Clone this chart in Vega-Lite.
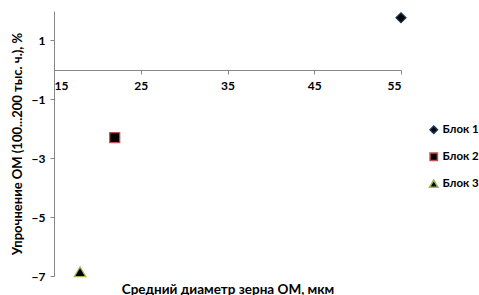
{
  "$schema": "https://vega.github.io/schema/vega-lite/v6.json",
  "width": 347,
  "height": 265,
  "autosize": {"type": "none"},
  "padding": {"left": 54, "top": 11, "right": 78, "bottom": 19},
  "background": "white",
  "config": {"view": {"stroke": null}, "font": "Lato"},
  "data": {"values": [
    {"x": 55, "y": 1.77, "series": "Блок 1"},
    {"x": 22, "y": -2.3, "series": "Блок 2"},
    {"x": 18, "y": -6.86, "series": "Блок 3"}
  ]},
  "mark": {"type": "point", "filled": false, "opacity": 1, "strokeWidth": 1.2, "size": 100},
  "encoding": {
    "x": {
      "field": "x", "type": "quantitative",
      "scale": {"domain": [15, 55], "nice": false, "zero": false},
      "axis": {
        "values": [15, 25, 35, 45, 55],
        "offset": -206,
        "grid": false,
        "domainColor": "#868686",
        "tickColor": "#868686",
        "tickSize": 4,
        "labelPadding": 6,
        "labelFontSize": 12,
        "labelFontWeight": "bold",
        "labelColor": "#000",
        "title": "Средний диаметр зерна ОМ, мкм",
        "titleFontSize": 13.5,
        "titleFontWeight": "bold",
        "titleColor": "#000",
        "titleY": 219,
        "titleBaseline": "middle"
      }
    },
    "y": {
      "field": "y", "type": "quantitative",
      "scale": {"domain": [-7, 2], "nice": false, "zero": false},
      "axis": {
        "values": [-7, -5, -3, -1, 1],
        "grid": false,
        "domainColor": "#868686",
        "tickColor": "#868686",
        "tickSize": 4,
        "labelPadding": 5,
        "labelFontSize": 12,
        "labelFontWeight": "bold",
        "labelColor": "#000",
        "title": "Упрочнение ОМ (100...200 тыс. ч.), %",
        "titleFontSize": 13,
        "titleFontWeight": "bold",
        "titleColor": "#000",
        "titlePadding": 7
      }
    },
    "fill": {"value": "#000"},
    "stroke": {
      "field": "series", "type": "nominal",
      "scale": {"domain": ["Блок 1", "Блок 2", "Блок 3"], "range": ["#17375E", "#C0504D", "#9BBB59"]},
      "legend": {
        "title": null,
        "orient": "none",
        "legendX": 374,
        "legendY": 113,
        "rowPadding": 13,
        "symbolSize": 55,
        "symbolFillColor": "#000",
        "labelFontSize": 11.5,
        "labelFontWeight": "bold",
        "labelColor": "#000",
        "labelOffset": 3
      }
    },
    "shape": {
      "field": "series", "type": "nominal",
      "scale": {"domain": ["Блок 1", "Блок 2", "Блок 3"], "range": ["diamond", "square", "M0,-1L1.15,0.95L-1.15,0.95Z"]}
    }
  }
}
